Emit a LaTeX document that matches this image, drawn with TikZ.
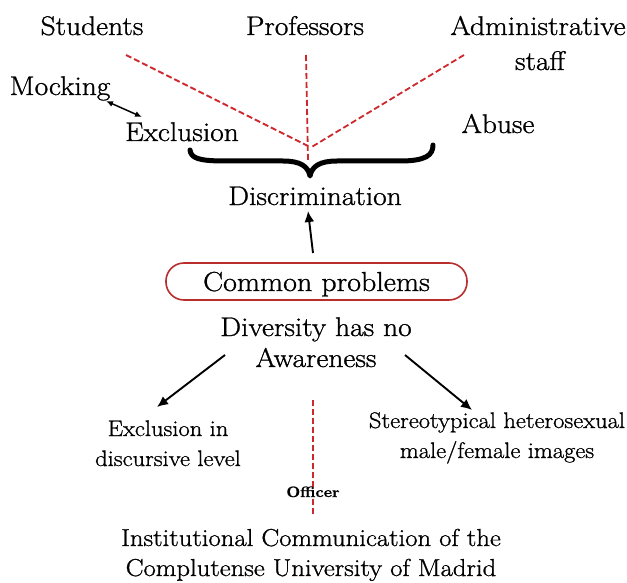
\documentclass[tikz,border=0pt]{standalone}
\usepackage{fontspec}
\setmainfont{Latin Modern Roman}[FakeStretch=1.09, FakeBold=1.0]
\usetikzlibrary{arrows.meta}
\definecolor{dred}{RGB}{205,40,45}
\definecolor{boxred}{RGB}{185,45,45}
\begin{document}
\begin{tikzpicture}[x=1pt,y=-1pt,
  lbl/.style={font=\fontsize{27}{30}\selectfont, inner sep=0pt, anchor=base},
  sml/.style={font=\fontsize{22.5}{26}\selectfont, inner sep=0pt, anchor=base},
  big/.style={font=\fontsize{24.5}{28}\selectfont, inner sep=0pt, anchor=base},
  reddash/.style={draw=dred, line width=1.8pt, dash pattern=on 6pt off 3pt},
  arr/.style={draw=black, line width=1.9pt, -{Latex[length=11pt,width=10pt]}},
  dblarr/.style={draw=black, line width=1.5pt, {Latex[length=7pt,width=6pt]}-{Latex[length=7pt,width=6pt]}},
  cpbox/.style={draw=boxred, line width=1.6pt, rounded corners=18pt, minimum width=301pt,
    minimum height=37pt, inner sep=0pt, font=\fontsize{27.5}{30}\selectfont, text height=22pt, text depth=3pt},
  bracestyle/.style={draw=black, line width=5pt, line cap=round, line join=round}
]
\useasboundingbox (0,0) rectangle (627,583);
\fill[white] (0,0) rectangle (627,583);

% top texts
\node[lbl] (stu) at (92,35) {Students};
\node[lbl] (prof) at (305,35) {Professors};
\node[lbl] (adm) at (538,35) {Administrative};
\node[lbl] (staff) at (540,70) {staff};
\node[lbl] (mock) at (60,95) {Mocking};
\node[lbl] (excl) at (182,141) {Exclusion};
\node[lbl] (abuse) at (498,133) {Abuse};
\node[lbl] (disc) at (315,205) {Discrimination};

% red dashed lines
\coordinate (s0) at (126,55);
\coordinate (p0) at (306,55);
\coordinate (a0) at (464,55);
\coordinate (vs) at (308,146);
\coordinate (vp) at (308,160);
\coordinate (va) at (310,148);
\draw[reddash] (s0) -- (vs);
\draw[reddash] (p0) -- (vp);
\draw[reddash] (a0) -- (va);

% brace
\draw[bracestyle] (190,150) .. controls (191,158) and (198,161) .. (225,161)
  -- (283,161) .. controls (300,161) and (308,166) .. (310,176)
  .. controls (312,166) and (320,161) .. (337,161)
  -- (400,161) .. controls (426,161) and (433,155) .. (433,145);

% mocking <-> exclusion
\coordinate (m1) at (106,101);
\coordinate (m2) at (142,117);
\draw[dblarr] (m1) -- (m2);

% common problems
\node[cpbox] (cp) at (316.5,281.5) {Common problems};
\coordinate (u0) at (313,253);
\coordinate (u1) at (308,211);
\draw[arr] (u0) -- (u1);

\node[lbl] (div1) at (316,336) {Diversity has no};
\node[lbl] (div2) at (316,367) {Awareness};

\coordinate (l0) at (225,355);
\coordinate (l1) at (157,407);
\coordinate (r0) at (405,355);
\coordinate (r1) at (472,410);
\draw[arr] (l0) -- (l1);
\draw[arr] (r0) -- (r1);

\node[sml] (ex1) at (168,436) {Exclusion in};
\node[sml] (ex2) at (168,466) {discursive level};
\node[sml] (st1) at (497,428) {Stereotypical heterosexual};
\node[sml] (st2) at (497,458) {male/female images};

\coordinate (o0) at (313,400);
\coordinate (o1) at (313,516);
\draw[reddash] (o0) -- (o1);
\node[font=\bfseries\fontsize{15}{17}\selectfont, inner sep=0pt, anchor=base] (off) at (313,497) {Officer};

\node[big] (ic1) at (311,546) {Institutional Communication of the};
\node[big] (ic2) at (311,576) {Complutense University of Madrid};
\end{tikzpicture}
\end{document}
